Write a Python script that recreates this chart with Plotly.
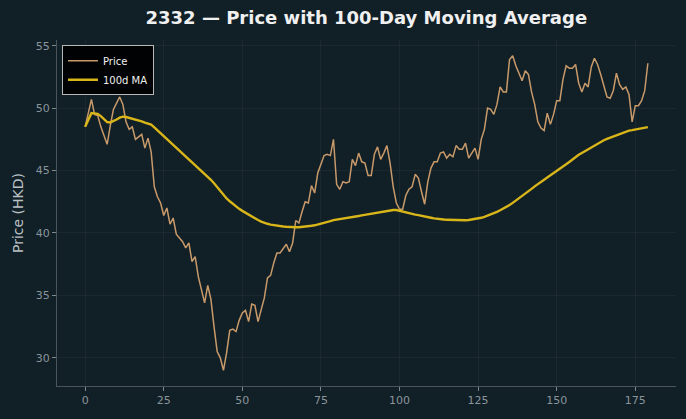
import plotly.graph_objects as go
import pandas as pd

days = list(range(180))
price = [
    48.5, 49.6, 50.7, 49.5, 49.4, 48.5, 47.8, 47.1, 48.6, 49.9,
    50.4, 50.9, 50.3, 48.9, 48.3, 48.5, 47.5, 47.7, 47.9, 46.8,
    47.6, 46.5, 43.7, 42.9, 42.4, 41.4, 42.0, 40.7, 41.2, 39.9,
    39.6, 39.3, 38.8, 39.2, 37.7, 38.1, 36.5, 35.5, 34.4, 35.8,
    34.7, 32.5, 30.5, 30.0, 29.0, 30.4, 32.2, 32.3, 32.1, 33.0,
    33.6, 33.8, 32.9, 34.3, 34.2, 32.9, 33.9, 34.8, 36.4, 36.6,
    37.6, 38.4, 38.4, 38.8, 39.1, 38.5, 39.2, 41.0, 40.8, 41.7,
    42.5, 42.4, 43.8, 43.2, 44.8, 45.5, 46.2, 46.3, 46.2, 47.5,
    43.9, 43.5, 44.1, 44.0, 44.1, 45.9, 45.4, 46.4, 45.7, 45.6,
    44.6, 44.6, 46.3, 46.9, 45.9, 46.4, 47.0, 45.6, 43.7, 42.4,
    41.9, 41.9, 43.0, 43.5, 43.7, 44.7, 44.4, 43.3, 42.3, 44.1,
    45.2, 45.7, 45.7, 46.4, 46.5, 46.0, 46.3, 46.1, 47.0, 46.7,
    46.7, 47.2, 46.0, 46.4, 46.8, 45.9, 47.5, 48.3, 50.0, 49.9,
    49.5, 50.3, 51.7, 51.3, 51.3, 53.9, 54.2, 53.4, 52.8, 52.2,
    53.0, 52.7, 51.3, 50.3, 48.9, 48.4, 48.2, 49.6, 48.7, 49.5,
    50.6, 50.6, 52.3, 53.4, 53.2, 53.2, 53.5, 52.0, 51.3, 52.0,
    51.7, 53.3, 54.0, 53.5, 52.7, 51.9, 50.9, 50.8, 51.4, 52.8,
    51.9, 51.5, 51.7, 51.1, 48.9, 50.2, 50.2, 50.6, 51.4, 53.6,
]
ma_window = 100
ma100 = pd.Series(price).rolling(ma_window, min_periods=1).mean().tolist()

x_ticks = [0, 25, 50, 75, 100, 125, 150, 175]
y_ticks = [30, 35, 40, 45, 50, 55]

BG = "#111f27"
GRID = "rgba(255,255,255,0.045)"
TICKC = "#8a959b"
FONT = "DejaVu Sans"

fig = go.Figure()
fig.add_trace(go.Scatter(x=days, y=price, mode="lines", name="Price",
                         line=dict(color="#c89a6a", width=1.5)))
fig.add_trace(go.Scatter(x=days, y=ma100, mode="lines", name="100d MA",
                         line=dict(color="#d8b519", width=2.4)))

fig.update_layout(
    width=686, height=419,
    margin=dict(l=57, r=10, t=40, b=33),
    paper_bgcolor=BG, plot_bgcolor=BG,
    font=dict(family=FONT, color=TICKC, size=11),
    title=dict(text="<b>2332 — Price with 100-Day Moving Average</b>",
               x=0.534, xanchor="center", y=0.957, yanchor="middle",
               font=dict(family=FONT, size=18, color="#f0f0f0")),
    showlegend=True,
    legend=dict(x=0.008, y=0.985, xanchor="left", yanchor="top",
                bgcolor="rgba(0,0,0,0.92)", bordercolor="#b8b8b8", borderwidth=1,
                font=dict(family=FONT, size=10, color="#f0f0f0"),
                tracegroupgap=0, itemwidth=30, entrywidthmode="pixels"),
    xaxis=dict(range=[-8.95, 187.95], tickvals=x_ticks, showgrid=True,
               gridcolor=GRID, gridwidth=1, zeroline=False,
               showline=True, linecolor="#4a555b", linewidth=1,
               ticks="outside", ticklen=4, tickcolor="#7d878c",
               tickfont=dict(size=11, color=TICKC)),
    yaxis=dict(range=[27.74, 55.46], tickvals=y_ticks, showgrid=True,
               gridcolor=GRID, gridwidth=1, zeroline=False,
               showline=True, linecolor="#4a555b", linewidth=1,
               ticks="outside", ticklen=4, tickcolor="#7d878c",
               tickfont=dict(size=11, color=TICKC),
               title=dict(text="Price (HKD)", standoff=8,
                          font=dict(family=FONT, size=14, color="#b9c0c4"))),
)

fig.write_html("out.html")
